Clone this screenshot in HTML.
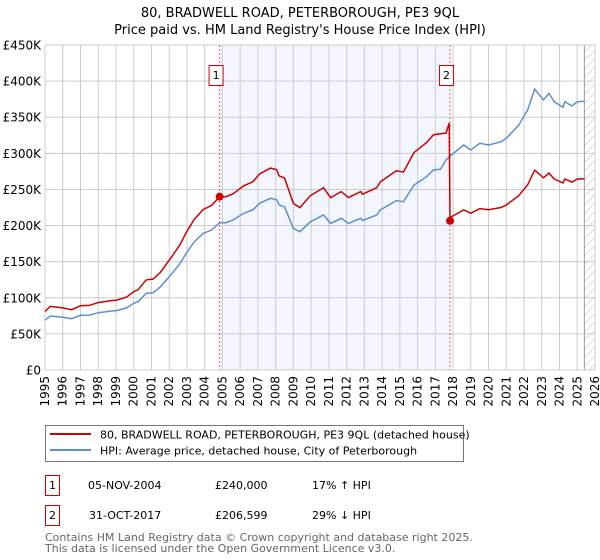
<!DOCTYPE html>
<html><head><meta charset="utf-8"><style>
html,body{margin:0;padding:0;background:#fff;}
svg{display:block;font-family:"DejaVu Sans","Liberation Sans",sans-serif;}
</style></head><body>
<svg id="chart" width="600" height="560" viewBox="0 0 600 560">
<defs>
<pattern id="hatch" width="6" height="6" patternUnits="userSpaceOnUse" patternTransform="rotate(45)">
<line x1="0" y1="0" x2="0" y2="6" stroke="#bbb" stroke-width="1"/>
</pattern>
</defs>
<text x="300" y="17" text-anchor="middle" font-size="13">80, BRADWELL ROAD, PETERBOROUGH, PE3 9QL</text>
<text x="300" y="34" text-anchor="middle" font-size="13">Price paid vs. HM Land Registry's House Price Index (HPI)</text>
<g id="plot"></g>
<g>
<rect x="45.5" y="425.5" width="418" height="36" fill="#fff" stroke="#777"/>
<line x1="50" y1="434" x2="91" y2="434" stroke="#cc0000" stroke-width="2"/>
<text x="100" y="438.5" font-size="11">80, BRADWELL ROAD, PETERBOROUGH, PE3 9QL (detached house)</text>
<line x1="50" y1="450" x2="91" y2="450" stroke="#5b8fd0" stroke-width="2"/>
<text x="100" y="454.5" font-size="11">HPI: Average price, detached house, City of Peterborough</text>
</g>
<g font-size="11">
<rect x="45.5" y="475.5" width="14" height="20" fill="#fff" stroke="#cc0000"/>
<text x="52.5" y="489" text-anchor="middle">1</text>
<text x="88" y="489">05-NOV-2004</text>
<text x="215" y="489">£240,000</text>
<text x="312" y="489">17% ↑ HPI</text>
<rect x="45.5" y="505.5" width="14" height="20" fill="#fff" stroke="#cc0000"/>
<text x="52.5" y="519" text-anchor="middle">2</text>
<text x="89" y="519">31-OCT-2017</text>
<text x="215" y="519">£206,599</text>
<text x="312" y="519">29% ↓ HPI</text>
</g>
<text x="45" y="541" font-size="11" fill="#666">Contains HM Land Registry data © Crown copyright and database right 2025.</text>
<text x="45" y="552" font-size="11" fill="#666">This data is licensed under the Open Government Licence v3.0.</text>
</svg>
<script>
const yearTicks = [1995,1996,1997,1998,1999,2000,2001,2002,2003,2004,2005,2006,2007,2008,2009,2010,2011,2012,2013,2014,2015,2016,2017,2018,2019,2020,2021,2022,2023,2024,2025,2026];
const priceTicks = [0,50,100,150,200,250,300,350,400,450];
const priceTickLabels = ["£0","£50K","£100K","£150K","£200K","£250K","£300K","£350K","£400K","£450K"];
const hpiYears = [1995.0,1995.3,1996.0,1996.5,1997.0,1997.5,1998.0,1998.85,1999.0,1999.6,2000.0,2000.25,2000.7,2001.1,2001.5,2002.0,2002.6,2003.0,2003.4,2003.9,2004.4,2004.84,2005.2,2005.6,2006.2,2006.7,2007.1,2007.7,2008.05,2008.2,2008.5,2009.0,2009.37,2009.94,2010.7,2011.1,2011.7,2012.1,2012.8,2012.9,2013.7,2013.9,2014.8,2015.2,2015.8,2016.5,2016.9,2017.3,2017.6,2017.9,2018.6,2019.0,2019.5,2020.0,2020.7,2021.0,2021.7,2022.2,2022.6,2023.1,2023.4,2023.7,2024.2,2024.3,2024.7,2025.0,2025.4];
const hpiValues = [69,74.8,73,71,75.7,76,79.4,82,82,86,92.3,94.6,106,107,115,129,147,163,177,189,194,204,204,207.7,217,221.5,230.8,237.7,236,228.5,226,196,191.5,205,214.6,203,210,203,210,207,214.6,221.5,234.5,233,256,267.7,277,278,290.8,297.7,311.5,304.6,313.9,311.5,316,320.8,339,360,388.6,373.8,383,371.5,363.7,371.5,365.5,371.5,372];
const propYears = [1995.0,1995.3,1996.0,1996.5,1997.0,1997.5,1998.0,1998.85,1999.0,1999.6,2000.0,2000.25,2000.7,2001.1,2001.5,2002.0,2002.6,2003.0,2003.4,2003.9,2004.4,2004.84,2005.2,2005.6,2006.2,2006.7,2007.1,2007.7,2008.05,2008.2,2008.5,2009.0,2009.37,2009.94,2010.7,2011.1,2011.7,2012.1,2012.8,2012.9,2013.7,2013.9,2014.8,2015.2,2015.8,2016.5,2016.9,2017.3,2017.6,2017.78,2017.83,2017.9,2018.6,2019.0,2019.5,2020.0,2020.7,2021.0,2021.7,2022.2,2022.6,2023.1,2023.4,2023.7,2024.2,2024.3,2024.7,2025.0,2025.4];
const propValues = [81,88,86,83.5,89,89.4,93.4,96.4,96.4,101,108.5,111,124.7,126,135,152,173,192,208,222,228,240,240,244,255,260.5,271.4,279.5,277.5,268.7,265.8,230.5,225,241,252.4,238.7,247,238.7,247,243.4,252.4,260.5,275.8,274,301,314.8,325.8,327,328,342,206.6,212,221.8,216.9,223.5,221.8,225,228.4,241.4,256.3,276.7,266.1,272.7,264.5,259,264.5,260.2,264.5,264.9];
const saleYears = [2004.84, 2017.83];
const saleValues = [240, 206.599];
const saleLabels = ["1","2"];

const NS = "http://www.w3.org/2000/svg";
const L = 45, R = 595, T = 45, B = 370;
const X0 = 1995, X1 = 2026, YMAX = 450;
function xs(y){ return L + (y - X0) / (X1 - X0) * (R - L); }
function ys(v){ return B - v / YMAX * (B - T); }
const plot = document.getElementById('plot');
function mk(tag, attrs){ const e = document.createElementNS(NS, tag); for (const k in attrs) e.setAttribute(k, attrs[k]); plot.appendChild(e); return e; }

const shade = mk('rect', {x: xs(saleYears[0]), y: T, width: xs(saleYears[1]) - xs(saleYears[0]), height: B - T, fill: '#eef2fc', opacity: 0.7});


const hatch = mk('rect', {x: xs(2025.4), y: T, width: R - xs(2025.4), height: B - T, fill: 'url(#hatch)'});



yearTicks.forEach(yr => {
  const x = xs(yr);
  const g = mk('line', {x1: x, y1: T, x2: x, y2: B, stroke: '#ccc', 'stroke-width': 1});
  
  
  const t = mk('text', {x: 0, y: 0, 'font-size': 12, 'text-anchor': 'end', transform: `translate(${x + 4},${B + 6}) rotate(-90)`});
  t.textContent = yr;
  
  
});
priceTicks.forEach((v, i) => {
  const y = ys(v);
  const g = mk('line', {x1: L, y1: y, x2: R, y2: y, stroke: '#ccc', 'stroke-width': 1});
  
  
  const t = mk('text', {x: L - 4, y: y + 4.5, 'font-size': 12, 'text-anchor': 'end'});
  t.textContent = priceTickLabels[i];
  
  
});
const endLine = mk('line', {x1: xs(2025.4), y1: T, x2: xs(2025.4), y2: B, stroke: '#999', 'stroke-width': 1});


const frame = mk('rect', {x: L, y: T, width: R - L, height: B - T, fill: 'none', stroke: '#ccc'});



saleYears.forEach((yr, i) => {
  const x = xs(yr);
  const v = mk('line', {x1: x, y1: T, x2: x, y2: B, stroke: '#e06060', 'stroke-width': 1, 'stroke-dasharray': '2,2'});
  
  
});

function pathFrom(xsArr, vals){ return xsArr.map((y, i) => (i ? 'L' : 'M') + xs(y).toFixed(1) + ',' + ys(vals[i]).toFixed(1)).join(' '); }
const hpi = mk('path', {d: pathFrom(hpiYears, hpiValues), fill: 'none', stroke: '#5b8fd0', 'stroke-width': 1.5});


const prop = mk('path', {d: pathFrom(propYears, propValues), fill: 'none', stroke: '#cc0000', 'stroke-width': 1.5});



saleYears.forEach((yr, i) => {
  const x = xs(yr);
  const d = mk('circle', {cx: x, cy: ys(saleValues[i]), r: 4, fill: '#cc0000'});
  
  
  const b = mk('rect', {x: x - 10.5, y: 65.5, width: 14, height: 20, fill: '#fff', stroke: '#cc0000'});
  
  
  const t = mk('text', {x: x - 3.5, y: 79, 'font-size': 11, 'text-anchor': 'middle'});
  t.textContent = saleLabels[i];
  
  
});
</script>
</body></html>
